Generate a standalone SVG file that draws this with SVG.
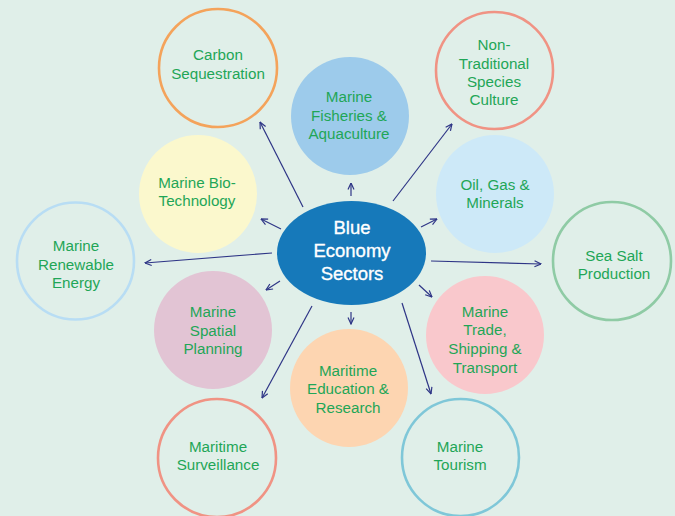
<svg xmlns="http://www.w3.org/2000/svg" width="675" height="516" viewBox="0 0 675 516">
  <defs>
    <marker id="arrow" viewBox="0 0 8 8" refX="7.5" refY="4" markerWidth="8" markerHeight="8" markerUnits="userSpaceOnUse" orient="auto">
      <path d="M1,1 L7.5,4 L1,7" fill="none" stroke="#2e3586" stroke-width="1.2"/>
    </marker>
    <style>
      .bg { fill: #e0efe9; }
      .ring { fill: none; stroke-width: 2.6; }
      .disc { stroke: none; }
      .lbl { font-family: "Liberation Sans", Arial, sans-serif; font-size: 15.2px; fill: #1fa657; text-anchor: middle; }
      .hub-lbl { font-family: "Liberation Sans", Arial, sans-serif; font-size: 18.5px; fill: #ffffff; stroke: #ffffff; stroke-width: 0.35; text-anchor: middle; }
      .link { stroke: #2e3586; stroke-width: 1.2; fill: none; marker-end: url(#arrow); }
    </style>
  </defs>

  <rect class="bg" x="0" y="0" width="675" height="516"/>

  <!-- connectors from the hub to each sector -->
  <g id="connectors">
    <line class="link" x1="303" y1="207" x2="260" y2="122"/>
    <line class="link" x1="351" y1="196" x2="351" y2="183"/>
    <line class="link" x1="393" y1="201" x2="452" y2="124"/>
    <line class="link" x1="421" y1="227" x2="437" y2="219"/>
    <line class="link" x1="431" y1="261" x2="541" y2="264"/>
    <line class="link" x1="419" y1="285" x2="432" y2="297"/>
    <line class="link" x1="402" y1="303" x2="431" y2="394"/>
    <line class="link" x1="351" y1="312" x2="351" y2="324"/>
    <line class="link" x1="312" y1="306" x2="262" y2="398"/>
    <line class="link" x1="280" y1="281" x2="266" y2="290"/>
    <line class="link" x1="272" y1="253" x2="145" y2="263"/>
    <line class="link" x1="281" y1="229" x2="261" y2="219"/>
  </g>

  <g id="carbon-sequestration">
    <circle class="ring" cx="218" cy="68" r="59" stroke="#f4a35b"/>
    <text class="lbl" x="218" y="60">Carbon</text>
    <text class="lbl" x="218" y="79">Sequestration</text>
  </g>

  <g id="marine-fisheries">
    <circle class="disc" cx="350" cy="116" r="59" fill="#9dcbeb"/>
    <text class="lbl" x="349" y="102">Marine</text>
    <text class="lbl" x="349" y="121">Fisheries &amp;</text>
    <text class="lbl" x="349" y="139">Aquaculture</text>
  </g>

  <g id="non-traditional-species">
    <circle class="ring" cx="494.5" cy="70.5" r="58.5" stroke="#f09384"/>
    <text class="lbl" x="494" y="50">Non-</text>
    <text class="lbl" x="494" y="69">Traditional</text>
    <text class="lbl" x="494" y="87">Species</text>
    <text class="lbl" x="494" y="105">Culture</text>
  </g>

  <g id="oil-gas-minerals">
    <circle class="disc" cx="495" cy="194" r="59" fill="#cde9f8"/>
    <text class="lbl" x="495" y="190">Oil, Gas &amp;</text>
    <text class="lbl" x="495" y="208">Minerals</text>
  </g>

  <g id="sea-salt">
    <circle class="ring" cx="612" cy="261" r="59" stroke="#8fcba5"/>
    <text class="lbl" x="614" y="261">Sea Salt</text>
    <text class="lbl" x="614" y="279">Production</text>
  </g>

  <g id="marine-trade">
    <circle class="disc" cx="485" cy="335" r="59" fill="#f9c8cc"/>
    <text class="lbl" x="485" y="317">Marine</text>
    <text class="lbl" x="485" y="335">Trade,</text>
    <text class="lbl" x="485" y="354">Shipping &amp;</text>
    <text class="lbl" x="485" y="373">Transport</text>
  </g>

  <g id="marine-tourism">
    <circle class="ring" cx="460.5" cy="457.5" r="58.5" stroke="#7fc7d8"/>
    <text class="lbl" x="460" y="452">Marine</text>
    <text class="lbl" x="460" y="470">Tourism</text>
  </g>

  <g id="maritime-education">
    <circle class="disc" cx="349" cy="388" r="59" fill="#fdd5b1"/>
    <text class="lbl" x="348" y="376">Maritime</text>
    <text class="lbl" x="348" y="394">Education &amp;</text>
    <text class="lbl" x="348" y="413">Research</text>
  </g>

  <g id="maritime-surveillance">
    <circle class="ring" cx="217" cy="458" r="59" stroke="#f09384"/>
    <text class="lbl" x="218" y="452">Maritime</text>
    <text class="lbl" x="218" y="470">Surveillance</text>
  </g>

  <g id="marine-spatial-planning">
    <circle class="disc" cx="213" cy="330" r="59" fill="#e2c4d4"/>
    <text class="lbl" x="213" y="317">Marine</text>
    <text class="lbl" x="213" y="336">Spatial</text>
    <text class="lbl" x="213" y="354">Planning</text>
  </g>

  <g id="marine-renewable-energy">
    <circle class="ring" cx="75.5" cy="261" r="58.5" stroke="#b8ddf4"/>
    <text class="lbl" x="76" y="251">Marine</text>
    <text class="lbl" x="76" y="270">Renewable</text>
    <text class="lbl" x="76" y="288">Energy</text>
  </g>

  <g id="marine-biotechnology">
    <circle class="disc" cx="198" cy="194" r="59" fill="#fbf8cd"/>
    <text class="lbl" x="197" y="188">Marine Bio-</text>
    <text class="lbl" x="197" y="206">Technology</text>
  </g>

  <g id="blue-economy-sectors">
    <ellipse cx="351.5" cy="253" rx="74.5" ry="52" fill="#1679ba"/>
    <text class="hub-lbl" x="352" y="234">Blue</text>
    <text class="hub-lbl" x="352" y="257">Economy</text>
    <text class="hub-lbl" x="352" y="280">Sectors</text>
  </g>
</svg>
